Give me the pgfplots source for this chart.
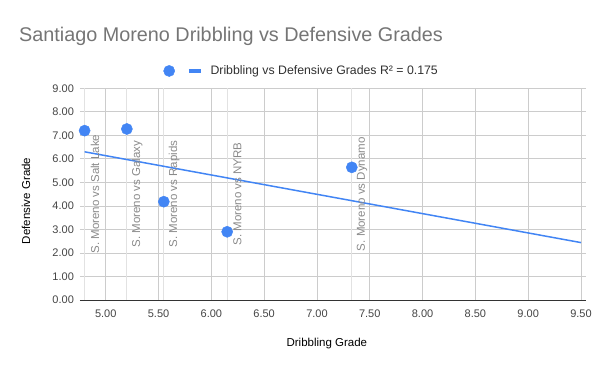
\documentclass[border=0pt]{standalone}
\usepackage{pgfplots}
\pgfplotsset{compat=1.18}
\usepackage{fontspec}
\setmainfont{Liberation Sans}
\definecolor{gblue}{HTML}{4285F4}
\definecolor{gridc}{HTML}{CCCCCC}
\definecolor{datagrid}{HTML}{E2E2E2}
\definecolor{titlec}{HTML}{757575}
\definecolor{tickc}{HTML}{444444}
\definecolor{labc}{HTML}{8A8A8A}
\begin{document}
\begin{tikzpicture}[x=1pt,y=1pt]
\path[use as bounding box] (0,0) rectangle (600,371);
\node[anchor=west, text=titlec, font=\fontsize{19.8}{23}\selectfont, inner sep=0pt] at (19,334.5) {Santiago Moreno Dribbling vs Defensive Grades};
\begin{axis}[
  at={(84.6pt,71pt)}, anchor=south west,
  width=496.4pt, height=211.7pt, scale only axis,
  xmin=4.8, xmax=9.5, ymin=0, ymax=9,
  xtick={5,5.5,...,9.5},
  ytick={0,1,...,9},
  grid=major,
  major grid style={draw=gridc, line width=0.8pt},
  axis line style={draw=none},
  tick align=outside,
  major tick length=4.6pt,
  xtick style={draw=none},
  ytick style={draw=gridc, line width=0.8pt},
  /pgf/number format/assume math mode=true,
  /pgf/number format/.cd, fixed, fixed zerofill, precision=2,
  /pgfplots/.cd,
  ticklabel style={font=\fontsize{11}{13}\selectfont, text=tickc},
  xticklabel style={anchor=base, inner sep=0pt, yshift=-13pt},
  yticklabel style={anchor=east, inner sep=0pt, xshift=-5.9pt},
  extra x ticks={4.8,5.2,5.55,6.15,7.33},
  extra x tick labels={},
  extra x tick style={grid=major, major grid style={draw=datagrid, line width=0.8pt}, xtick style={draw=none}},
  extra y ticks={0},
  extra y tick labels={},
  extra y tick style={grid=major, major grid style={draw=black!80, line width=0.9pt}, ytick style={draw=black!80, line width=0.9pt}},
  xlabel={Dribbling Grade},
  ylabel={Defensive Grade},
  label style={font=\fontsize{11.5}{13}\selectfont, text=black},
  xlabel style={at={(axis description cs:0.488,-0.208)}, anchor=center},
  ylabel style={at={(axis description cs:-0.118,0.468)}, anchor=center, rotate=0},
  legend style={at={(0.1587,1.082)}, anchor=west, draw=none, fill=none,
    inner sep=0pt, outer sep=0pt, column sep=0pt, nodes={inner sep=0pt},
    font=\fontsize{12.3}{14}\selectfont, text=tickc!70!black, legend columns=2},
  legend cell align=left,
]
\addplot[only marks, mark=*, mark size=5.6pt, color=gblue, mark options={draw=gblue, fill=gblue},
  legend image code/.code={\fill[gblue] (0pt,0pt) circle (5.6pt); \path (16.4pt,0pt);}]
  coordinates {(4.8,7.2) (5.2,7.27) (5.55,4.18) (6.15,2.9) (7.33,5.64)};
\addlegendentry{}
\addplot[gblue, line width=1.5pt, mark=none,
  legend image code/.code={\draw[gblue, line width=4pt] (0pt,0pt) -- (12pt,0pt); \path (21pt,0pt);}]
  coordinates {(4.8,6.3) (9.5,2.44)};
\addlegendentry{Dribbling vs Defensive Grades R² = 0.175}
\addplot[draw=none, mark=none, forget plot, nodes near coords, point meta=explicit symbolic,
  nodes near coords style={anchor=center, xshift=10.3pt, rotate=90, inner sep=0pt,
    font=\fontsize{11.5}{13}\selectfont, text=labc}]
  coordinates {(4.8,4.5) [S. Moreno vs Salt Lake] (5.2,4.5) [S. Moreno vs Galaxy]
    (5.55,4.5) [S. Moreno vs Rapids] (6.15,4.5) [S. Moreno vs NYRB] (7.33,4.5) [S. Moreno vs Dynamo]};
\end{axis}
\end{tikzpicture}
\end{document}
